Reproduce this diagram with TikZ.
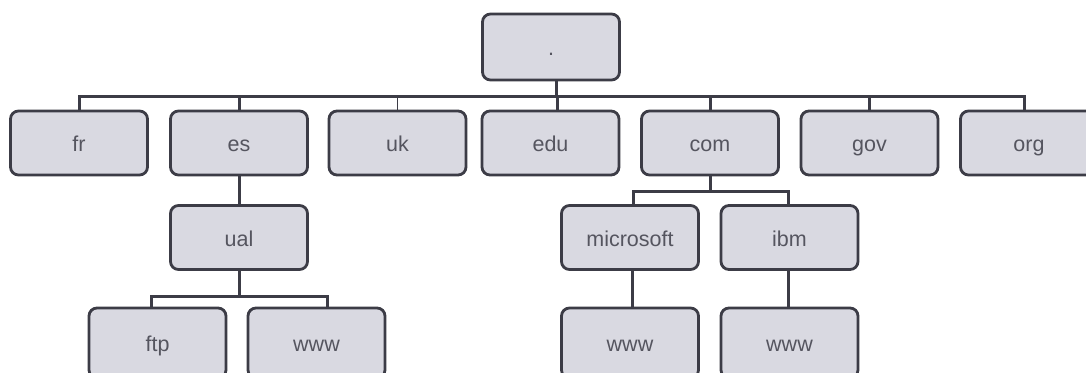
\documentclass[tikz,border=0pt]{standalone}
\usepackage{fontspec}
\setmainfont{Liberation Sans}
\definecolor{boxfill}{RGB}{217,217,225}
\definecolor{boxline}{RGB}{60,60,70}
\definecolor{boxtext}{RGB}{85,85,95}
\begin{document}
\begin{tikzpicture}[x=1pt,y=-1pt,
  dnsbox/.style={draw=boxline, fill=boxfill, line width=2.8pt, rounded corners=8pt,
    minimum width=137pt, minimum height=64pt, inner sep=0pt,
    text height=17pt, text depth=0pt,
    text=boxtext, font=\fontsize{21.5pt}{24pt}\selectfont},
  link/.style={draw=boxline, line width=3pt},
  thinlink/.style={draw=boxline, line width=1.4pt}]
\useasboundingbox (0,0) rectangle (1086,372);
\clip (0,0) rectangle (1086,372);
\fill[white] (0,0) rectangle (1086,372);

% bus coordinates
\coordinate (top) at (556,96);
\coordinate (esbus) at (239,296);
\coordinate (combus) at (710,191);

% root
\node[dnsbox, minimum height=66pt] (root) at (551,47) {.};

% top-level domains
\node[dnsbox] (fr)  at (79,143)   {fr};
\node[dnsbox] (es)  at (239,143)  {es};
\node[dnsbox] (uk)  at (397.5,143) {uk};
\node[dnsbox] (edu) at (550.5,143) {edu};
\node[dnsbox] (com) at (710,143)  {com};
\node[dnsbox] (gov) at (869.5,143) {gov};
\node[dnsbox] (org) at (1029,143) {org};

% second level
\node[dnsbox] (ual)  at (239,237.5)   {ual};
\node[dnsbox] (ms)   at (630,237.5)   {microsoft};
\node[dnsbox] (ibm)  at (789.5,237.5) {ibm};

% hosts (cut by the bottom edge)
\node[dnsbox, minimum height=70pt] (ftp)   at (157.5,343) {ftp};
\node[dnsbox, minimum height=70pt] (wwwu)  at (316.5,343) {www};
\node[dnsbox, minimum height=70pt] (wwwm)  at (630,343)   {www};
\node[dnsbox, minimum height=70pt] (wwwi)  at (789.5,343) {www};

% root to top-level domains
\draw[link] ([xshift=5pt]root.south) -- (top);
\draw[link] (fr.north) |- (top);
\draw[link] (es.north) |- (top);
\draw[thinlink] (uk.north) -- (uk.north |- top);
\draw[link] ([xshift=6.5pt]edu.north) -- ([xshift=6.5pt]edu.north |- top);
\draw[link] (com.north) |- (top);
\draw[link] (gov.north) |- (top);
\draw[link] ([xshift=-5pt]org.north) |- (top);

% es branch
\draw[link] (es.south) -- (ual.north);
\draw[link] (ual.south) -- (esbus);
\draw[link] ([xshift=-6.5pt]ftp.north) |- (esbus);
\draw[link] ([xshift=10.5pt]wwwu.north) |- (esbus);

% com branch
\draw[link] (com.south) -- (combus);
\draw[link] ([xshift=3pt]ms.north) |- (combus);
\draw[link] ([xshift=-1.5pt]ibm.north) |- (combus);
\draw[link] ([xshift=2pt]ms.south) -- ([xshift=2pt]wwwm.north);
\draw[link] ([xshift=-1.5pt]ibm.south) -- ([xshift=-1.5pt]wwwi.north);
\end{tikzpicture}
\end{document}
